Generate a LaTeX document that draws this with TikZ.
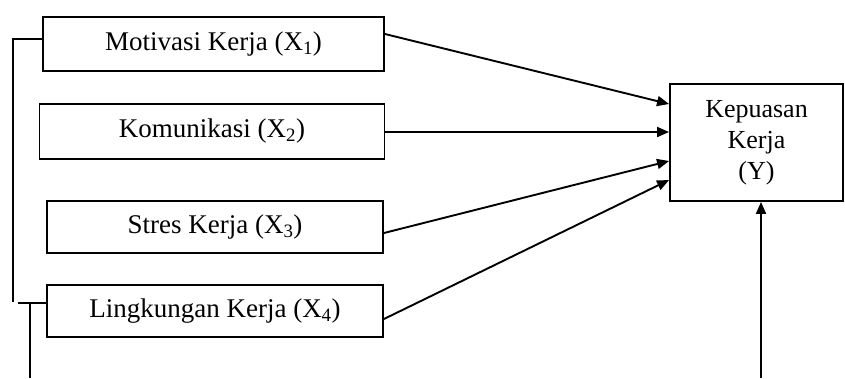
\documentclass[tikz,border=0pt]{standalone}
\usepackage{fontspec}
\setmainfont{Liberation Serif}
\usetikzlibrary{arrows.meta}
\begin{document}
\begin{tikzpicture}[x=1pt,y=-1pt,
  varbox/.style={draw, line width=1.9pt, inner sep=0pt, anchor=center,
    font=\fontsize{27}{31}\selectfont},
  conn/.style={line width=1.9pt},
  arr/.style={line width=1.9pt, -{Triangle[length=12pt,width=10pt]}}]
\useasboundingbox (0,0) rectangle (845,378);
\node[varbox, minimum width=341pt, minimum height=54pt] (b1) at (213.5,44) {Motivasi Kerja (X\textsubscript{1})};
\node[varbox, minimum width=345pt, minimum height=55pt] (b2) at (212,131.5) {Komunikasi (X\textsubscript{2})};
\node[varbox, minimum width=336pt, minimum height=52pt] (b3) at (215,227) {Stres Kerja (X\textsubscript{3})};
\node[varbox, minimum width=336pt, minimum height=52pt] (b4) at (215,311) {Lingkungan Kerja (X\textsubscript{4})};
\node[varbox, minimum width=173pt, minimum height=117pt, align=center,
  font=\fontsize{26}{31}\selectfont] (y) at (756.5,142.5) {Kepuasan\\Kerja\\(Y)};
% arrows into Y
\draw[arr] ([yshift=10pt]b1.east) -- ([yshift=38.5pt]y.west);
\draw[arr] ([yshift=-0.5pt]b2.east) -- ([yshift=10.5pt]y.west);
\draw[arr] ([yshift=-6pt]b3.east) -- ([yshift=-18.5pt]y.west);
\draw[arr] ([yshift=-8pt]b4.east) -- ([yshift=-37.5pt]y.west);
% bottom arrow
\coordinate (bot) at (761,378);
\draw[arr] (bot) -- ([xshift=4.5pt]y.south);
% left connectors
\coordinate (lc1) at (13,39);
\coordinate (lc2) at (13,302);
\draw[conn] ([yshift=5pt]b1.west) -- (lc1) -- (lc2);
\coordinate (lc3) at (18,303);
\coordinate (lc4) at (30,303);
\coordinate (lc5) at (30,378);
\draw[conn] (lc3) -- ([yshift=8pt]b4.west);
\draw[conn] (lc4) -- (lc5);
\end{tikzpicture}
\end{document}
